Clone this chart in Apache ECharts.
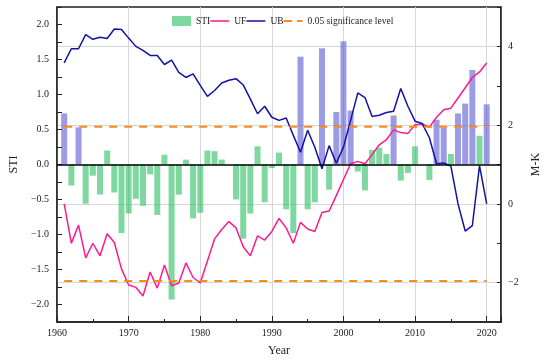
<!DOCTYPE html>
<html>
<head>
<meta charset="utf-8">
<script src="https://cdn.jsdelivr.net/npm/echarts@6/dist/echarts.min.js"></script>
<style>
html,body{margin:0;padding:0;background:#fff;}
#chart{width:550px;height:362px;}
</style>
</head>
<body>
<div id="chart"></div>
<script>
const years = [1961,1962,1963,1964,1965,1966,1967,1968,1969,1970,
  1971,1972,1973,1974,1975,1976,1977,1978,1979,1980,
  1981,1982,1983,1984,1985,1986,1987,1988,1989,1990,
  1991,1992,1993,1994,1995,1996,1997,1998,1999,2000,
  2001,2002,2003,2004,2005,2006,2007,2008,2009,2010,
  2011,2012,2013,2014,2015,2016,2017,2018,2019,2020];

const sti = [0.73,-0.30,0.53,-0.56,-0.16,-0.43,0.20,-0.40,-0.98,-0.70,
  -0.49,-0.59,-0.14,-0.72,0.14,-1.93,-0.43,0.07,-0.77,-0.69,
  0.20,0.19,0.07,0.0,-0.50,-1.06,-0.70,0.26,-0.54,-0.05,
  0.17,-0.64,-0.98,1.54,-0.64,-0.54,1.66,-0.36,0.75,1.76,
  0.77,-0.10,-0.37,0.21,0.24,0.15,0.70,-0.23,-0.12,0.26,
  0.0,-0.22,0.64,0.53,0.15,0.73,0.87,1.35,0.41,0.86];

const uf = [0.0,-1.0,-0.54,-1.37,-1.0,-1.32,-0.76,-0.98,-1.65,-2.06,
  -2.12,-2.34,-1.73,-2.14,-1.55,-2.08,-2.01,-1.50,-1.87,-2.01,
  -1.45,-0.89,-0.65,-0.45,-0.61,-1.09,-1.32,-0.81,-0.92,-0.70,
  -0.37,-0.61,-1.0,-0.47,-0.64,-0.70,-0.22,-0.18,0.21,0.62,
  1.02,1.08,1.02,1.25,1.50,1.63,1.88,1.81,1.79,2.01,
  2.03,1.95,2.20,2.39,2.43,2.69,2.95,3.21,3.35,3.58];

const ub = [3.58,3.94,3.94,4.30,4.18,4.23,4.20,4.44,4.43,4.21,
  4.00,3.90,3.77,3.77,3.54,3.65,3.34,3.21,3.30,3.01,
  2.73,2.88,3.07,3.14,3.18,3.02,2.66,2.29,2.48,2.20,
  2.12,2.18,1.74,1.31,1.87,1.44,0.89,1.48,1.03,1.44,
  2.12,2.82,2.70,2.22,2.25,2.32,2.35,2.93,2.48,2.10,
  2.04,1.68,1.02,1.04,0.96,0.0,-0.69,-0.55,0.97,0.0];

const sigLevels = [1.96, -1.96];
const sigSpan = [1961, 2020];
const stiHighThreshold = 0.5;

const FONT = "'Liberation Serif','Times New Roman',serif";
const TXT = '#222';
const GREEN = 'rgba(40,190,95,0.6)';
const PURPLE = 'rgba(90,90,210,0.6)';
const PINK = '#ff1a8c';
const BLUE = '#1212a6';
const ORANGE = '#ff8a1c';

function fmtNum(v, dec) {
  const s = Math.abs(v).toFixed(dec);
  return (v < -1e-9 ? '\u2212' : '') + s;
}

const stiData = sti.map((v, i) => {
  const item = { value: [years[i], v] };
  if (v > stiHighThreshold) item.itemStyle = { color: PURPLE };
  return item;
});

const sigSeries = sigLevels.map(lv => ({
  name: '0.05 significance level',
  type: 'line',
  yAxisIndex: 1,
  symbol: 'none',
  silent: true,
  data: sigSpan.map(x => [x, lv]),
  lineStyle: { color: ORANGE, width: 2, type: [8, 7] },
  itemStyle: { color: ORANGE },
  z: 4
}));

const LINE_ICON = 'path://M0,0H20V1.6H0Z';
const DASH_ICON = 'path://M0,0H9V2H0Z M14,0H20V2H14Z';

const chart = echarts.init(document.getElementById('chart'), null, { renderer: 'canvas' });
chart.setOption({
  animation: false,
  backgroundColor: '#fff',
  textStyle: { fontFamily: FONT, color: TXT },
  grid: { left: 44, right: 37, top: 7, bottom: 40, show: true, borderColor: '#222', borderWidth: 1.5, backgroundColor: 'transparent' },
  legend: {
    left: 172, top: 16, padding: 0, itemGap: 0, itemWidth: 19, itemHeight: 10,
    textStyle: { fontFamily: FONT, fontSize: 9.5, color: TXT },
    data: [
      { name: 'STI', icon: 'rect', itemStyle: { color: GREEN } },
      { name: 'UF', icon: LINE_ICON, itemStyle: { color: PINK } },
      { name: 'UB', icon: LINE_ICON, itemStyle: { color: BLUE } },
      { name: '0.05 significance level', icon: DASH_ICON, itemStyle: { color: ORANGE } }
    ]
  },
  xAxis: {
    type: 'value', min: 1960, max: 2022, interval: 10,
    name: 'Year', nameLocation: 'middle', nameGap: 23,
    nameTextStyle: { fontFamily: FONT, fontSize: 12, color: TXT },
    axisLine: { show: true, onZero: false, lineStyle: { color: '#222', width: 1.5 } },
    axisTick: { show: true, inside: true, length: 6, lineStyle: { color: '#222' } },
    minorTick: { show: true, splitNumber: 2, length: 3, lineStyle: { color: '#222' } },
    axisLabel: { fontFamily: FONT, fontSize: 10, color: TXT, margin: 6, showMaxLabel: false,
      formatter: v => (v % 10 === 0 ? String(v) : '') },
    splitLine: { show: true, lineStyle: { color: '#d6d6d6', width: 1 } }
  },
  yAxis: [
    {
      type: 'value', min: -2.25, max: 2.25, interval: 0.25, position: 'left',
      name: 'STI', nameLocation: 'middle', nameGap: 34, nameRotate: 90,
      nameTextStyle: { fontFamily: FONT, fontSize: 12, color: TXT },
      axisLine: { show: true, onZero: false, lineStyle: { color: '#222', width: 1.5 } },
      axisTick: { show: true, inside: true, length: 5, lineStyle: { color: '#222' } },
      axisLabel: { fontFamily: FONT, fontSize: 10, color: TXT, margin: 8,
        formatter: v => (Math.abs(v * 2 - Math.round(v * 2)) < 1e-6 ? fmtNum(v, 1) : '') },
      splitLine: { show: false }
    },
    {
      type: 'value', min: -3, max: 5, interval: 1, position: 'right',
      name: 'M-K', nameLocation: 'middle', nameGap: 29, nameRotate: 90,
      nameTextStyle: { fontFamily: FONT, fontSize: 12, color: TXT },
      axisLine: { show: true, onZero: false, lineStyle: { color: '#222', width: 1.5 } },
      axisTick: { show: true, inside: true, length: 4, lineStyle: { color: '#222' } },
      axisLabel: { fontFamily: FONT, fontSize: 10, color: TXT, margin: 7,
        formatter: v => (Math.round(v) % 2 === 0 ? fmtNum(v, 0) : '') },
      splitLine: { show: true, lineStyle: { color: ['rgba(0,0,0,0)', '#d6d6d6'], width: 1 } }
    }
  ],
  series: [
    {
      name: 'STI', type: 'bar', yAxisIndex: 0, barWidth: 6,
      itemStyle: { color: GREEN },
      data: stiData,
      z: 2,
      markLine: {
        silent: true, symbol: 'none', label: { show: false },
        lineStyle: { color: '#000', width: 1.5, type: 'solid' },
        data: [{ yAxis: 0 }]
      }
    },
    {
      name: 'UF', type: 'line', yAxisIndex: 1, symbol: 'none',
      data: uf.map((v, i) => [years[i], v]),
      lineStyle: { color: PINK, width: 1.5 }, itemStyle: { color: PINK }, z: 3
    },
    {
      name: 'UB', type: 'line', yAxisIndex: 1, symbol: 'none',
      data: ub.map((v, i) => [years[i], v]),
      lineStyle: { color: BLUE, width: 1.5 }, itemStyle: { color: BLUE }, z: 3
    }
  ].concat(sigSeries)
});
</script>
</body>
</html>
